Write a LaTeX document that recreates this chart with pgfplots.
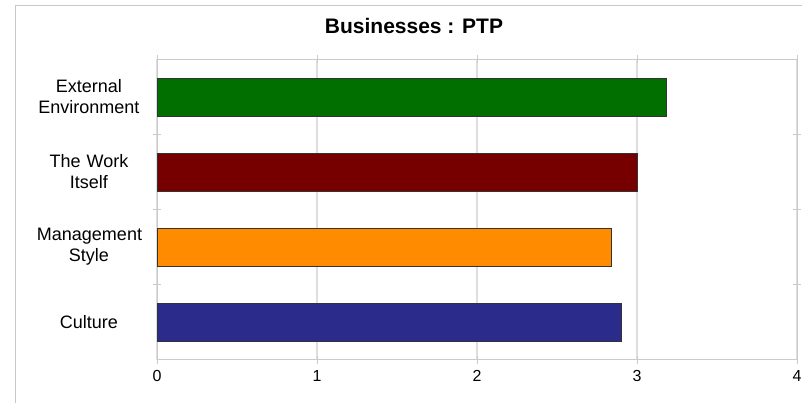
\documentclass[border=0pt]{standalone}
\usepackage{pgfplots}
\pgfplotsset{compat=1.18}
\usepackage{fontspec}
\setmainfont{Liberation Sans}
\definecolor{bgreen}{RGB}{0,111,0}
\definecolor{bred}{RGB}{118,0,0}
\definecolor{borange}{RGB}{255,140,0}
\definecolor{bblue}{RGB}{43,43,140}
\definecolor{framegray}{RGB}{200,200,200}
\definecolor{gridgray}{RGB}{222,222,222}
\begin{document}
\begin{tikzpicture}[x=1pt,y=1pt]
\useasboundingbox (0,0) rectangle (802,402);
\draw[framegray, line width=1pt] (15.5,-5) -- (15.5,396.5) -- (810,396.5);
\node[font=\fontsize{21}{24}\selectfont\bfseries] at (414,376.5) {Businesses : PTP};
\begin{axis}[
  at={(157pt,42.5pt)}, anchor=south west,
  scale only axis, width=640pt, height=300pt,
  xbar, bar width=38pt,
  xmin=0, xmax=4, ymin=-0.5, ymax=3.5,
  xtick={0,1,2,3,4},
  ytick={0,1,2,3},
  yticklabels={Culture, {Management\\Style}, {The Work\\Itself}, {External\\Environment}},
  minor ytick={0.5,1.5,2.5},
  major y tick style={draw=none},
  minor y tick style={gridgray!80!gray, line width=1pt},
  minor tick length=8pt,
  major x tick style={gridgray!80!gray, line width=1pt},
  major tick length=8pt,
  tick align=center,
  xmajorgrids,
  grid style={gridgray, line width=1.5pt},
  axis line style={gridgray!80!gray, line width=1pt},
  yticklabel style={align=center, text width=104pt, font=\fontsize{18}{21}\selectfont, xshift=-8.5pt},
  xticklabel style={font=\fontsize{16}{18}\selectfont, yshift=-3pt},
  /pgf/number format/assume math mode=true,
  clip=false,
]
\addplot[bar shift=0pt, fill=bblue, draw=black!80] coordinates {(2.90,0)};
\addplot[bar shift=0pt, fill=borange, draw=black!80] coordinates {(2.84,1)};
\addplot[bar shift=0pt, fill=bred, draw=black!80] coordinates {(3.00,2)};
\addplot[bar shift=0pt, fill=bgreen, draw=black!80] coordinates {(3.18,3)};
\end{axis}
\end{tikzpicture}
\end{document}
